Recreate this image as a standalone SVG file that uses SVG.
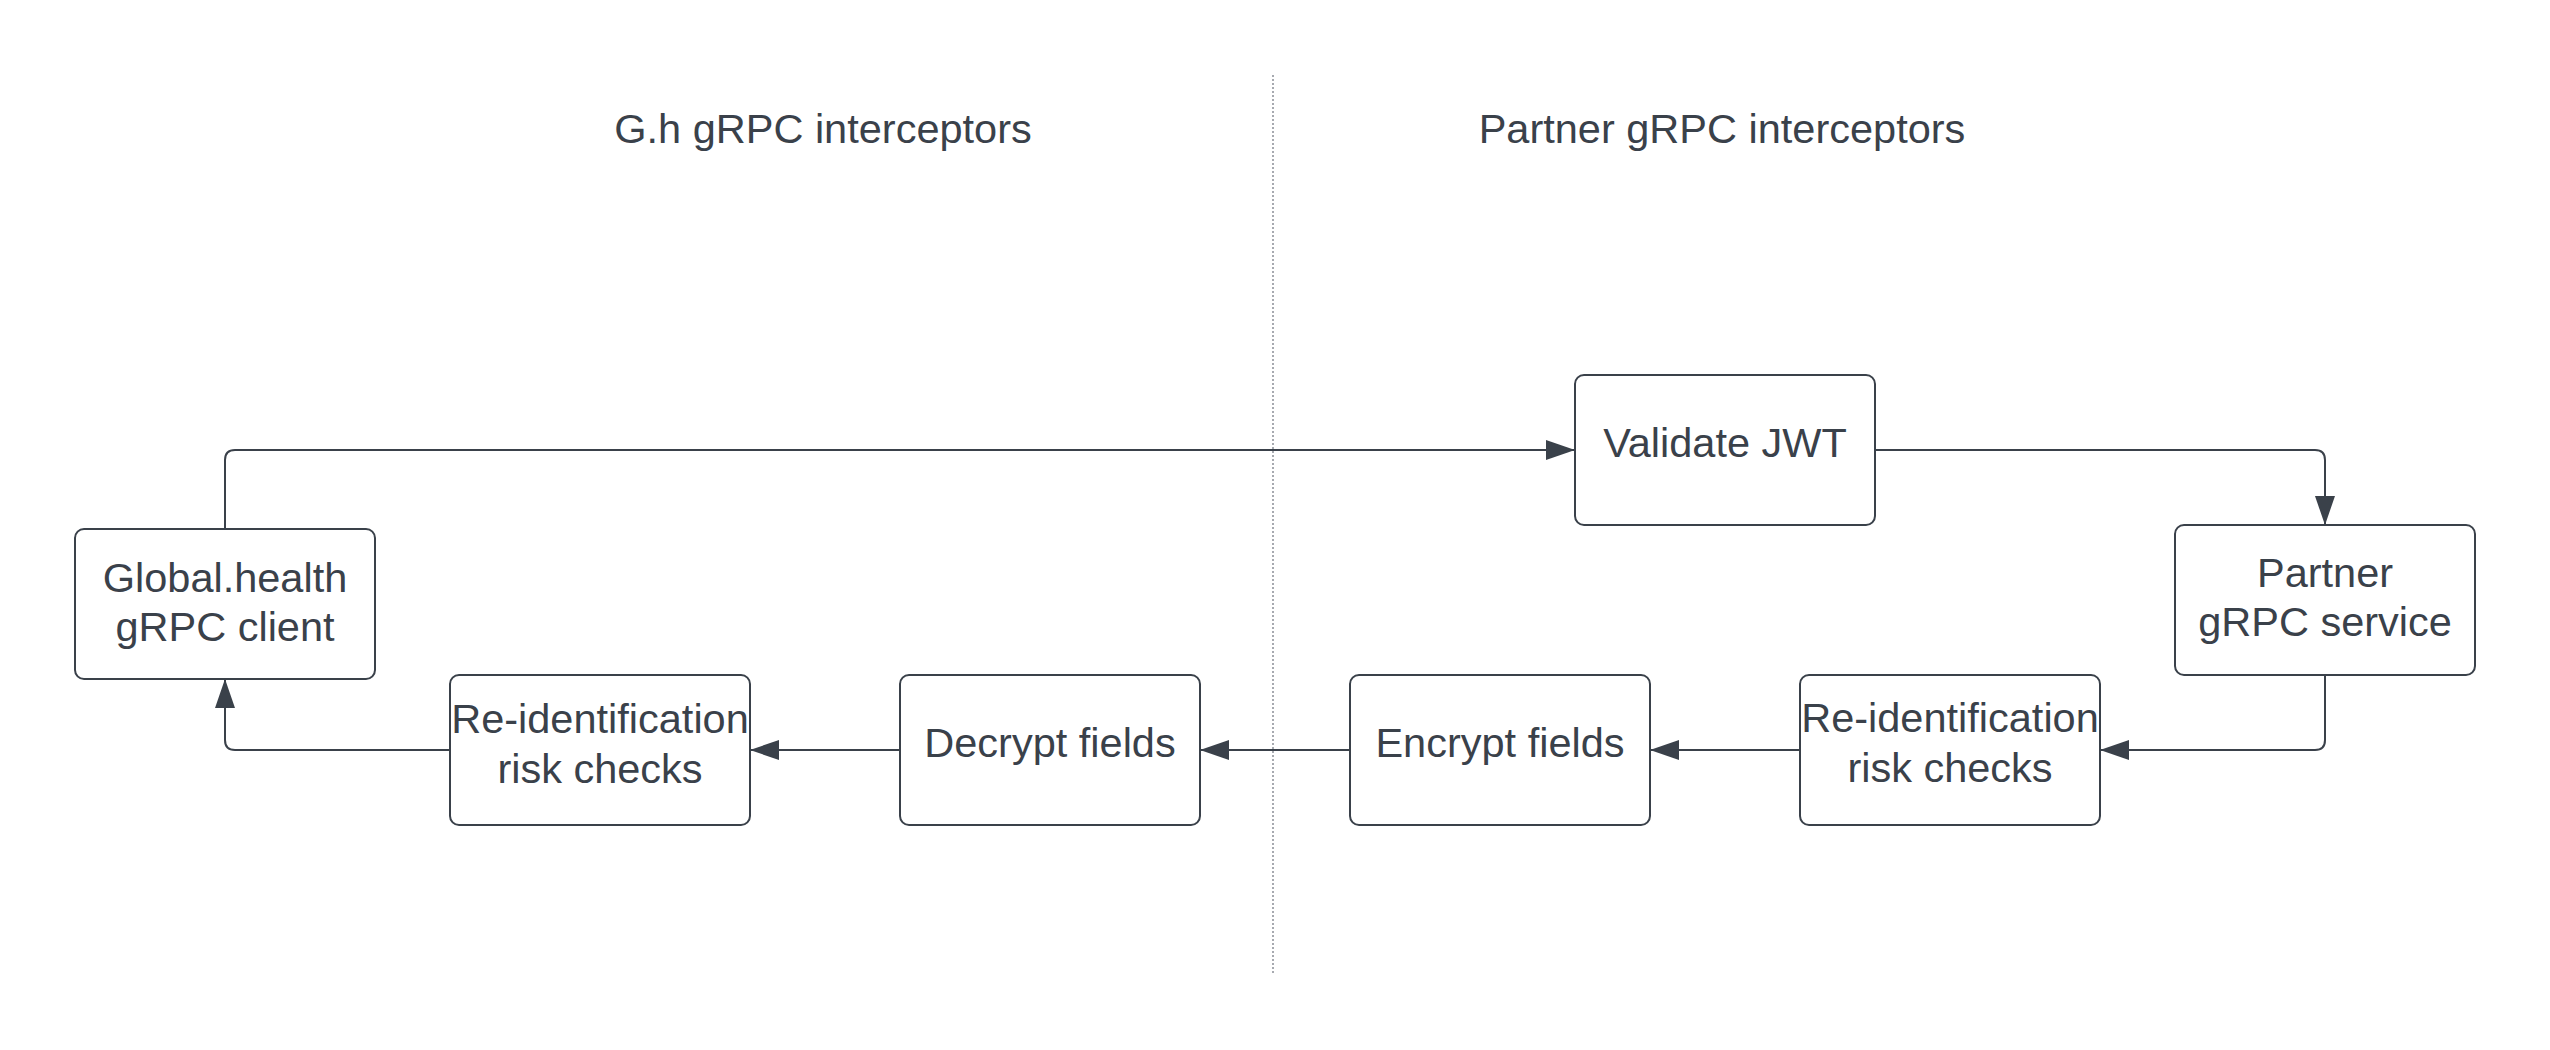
<svg xmlns="http://www.w3.org/2000/svg" width="2550" height="1050" viewBox="0 0 2550 1050">
  <style>
    .box { fill: #ffffff; stroke: #3a414a; stroke-width: 2; }
    .lbl { font-family: "Liberation Sans", Arial, sans-serif; font-size: 41.5px; fill: #3a414a; text-anchor: middle; }
    .hdr { font-family: "Liberation Sans", Arial, sans-serif; font-size: 41.5px; fill: #3a414a; text-anchor: middle; }
    .conn { fill: none; stroke: #3a414a; stroke-width: 2; marker-end: url(#arrow); }
    .divider { stroke: #8a8f96; stroke-width: 1.5; stroke-dasharray: 2 2; }
  </style>
  <defs>
    <marker id="arrow" markerUnits="userSpaceOnUse" markerWidth="30" markerHeight="22" refX="29" refY="11" orient="auto">
      <path d="M0,1 L29,11 L0,21 Z" fill="#3a414a"/>
    </marker>
  </defs>
  <rect width="2550" height="1050" fill="#ffffff"/>

  <line class="divider" x1="1273" y1="75" x2="1273" y2="973"/>

  <text class="hdr" x="823" y="143">G.h gRPC interceptors</text>
  <text class="hdr" x="1722" y="143">Partner gRPC interceptors</text>

  <g id="connectors">
    <path class="conn" d="M225,529 V460 Q225,450 235,450 H1575"/>
    <path class="conn" d="M1875,450 H2315 Q2325,450 2325,460 V525"/>
    <path class="conn" d="M2325,675 V740 Q2325,750 2315,750 H2100"/>
    <path class="conn" d="M1800,750 H1650"/>
    <path class="conn" d="M1350,750 H1200"/>
    <path class="conn" d="M900,750 H750"/>
    <path class="conn" d="M450,750 H235 Q225,750 225,740 V679"/>
  </g>

  <g id="global-health-client">
    <rect class="box" x="75" y="529" width="300" height="150" rx="9"/>
    <text class="lbl" x="225" y="592">Global.health</text>
    <text class="lbl" x="225" y="641">gRPC client</text>
  </g>

  <g id="validate-jwt">
    <rect class="box" x="1575" y="375" width="300" height="150" rx="9"/>
    <text class="lbl" x="1725" y="457">Validate JWT</text>
  </g>

  <g id="partner-service">
    <rect class="box" x="2175" y="525" width="300" height="150" rx="9"/>
    <text class="lbl" x="2325" y="587">Partner</text>
    <text class="lbl" x="2325" y="636">gRPC service</text>
  </g>

  <g id="reid-partner">
    <rect class="box" x="1800" y="675" width="300" height="150" rx="9"/>
    <text class="lbl" x="1950" y="732">Re-identification</text>
    <text class="lbl" x="1950" y="782">risk checks</text>
  </g>

  <g id="encrypt-fields">
    <rect class="box" x="1350" y="675" width="300" height="150" rx="9"/>
    <text class="lbl" x="1500" y="757">Encrypt fields</text>
  </g>

  <g id="decrypt-fields">
    <rect class="box" x="900" y="675" width="300" height="150" rx="9"/>
    <text class="lbl" x="1050" y="757">Decrypt fields</text>
  </g>

  <g id="reid-gh">
    <rect class="box" x="450" y="675" width="300" height="150" rx="9"/>
    <text class="lbl" x="600" y="733">Re-identification</text>
    <text class="lbl" x="600" y="783">risk checks</text>
  </g>
</svg>
